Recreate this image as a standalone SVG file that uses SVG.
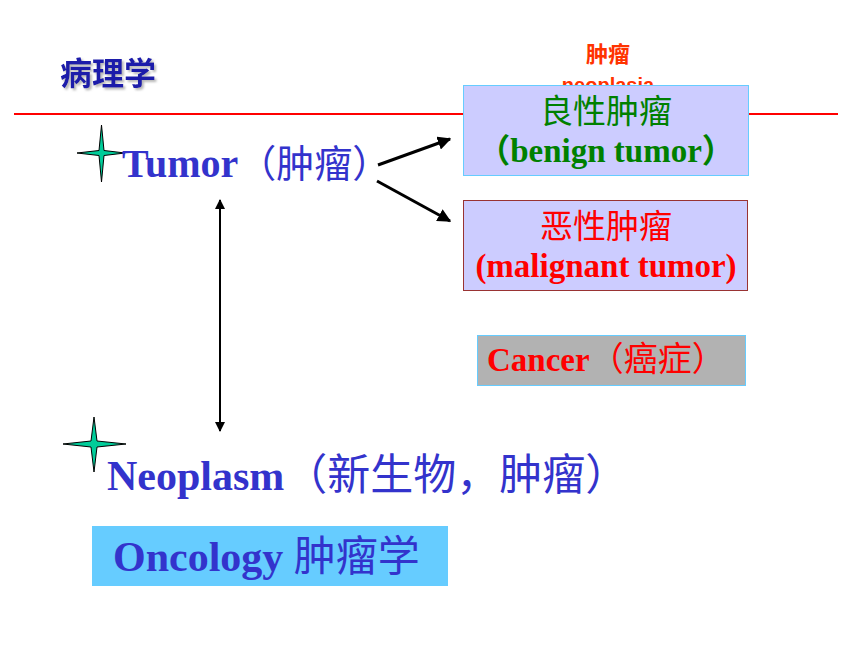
<svg xmlns="http://www.w3.org/2000/svg" width="860" height="645" viewBox="0 0 860 645">
<defs>
<style>
.serif{font-family:"Liberation Serif","Noto Sans CJK SC",serif;font-weight:bold;}
.cjk{font-family:"Noto Sans CJK SC","Liberation Sans",sans-serif;}
.blue{fill:#3333cc;}
.star{fill:#00cc99;stroke:#000;stroke-width:1;}
.conn{stroke:#000;stroke-width:3;fill:none;}
</style>
<filter id="shadow" x="-10%" y="-20%" width="130%" height="150%">
<feDropShadow dx="2" dy="2" stdDeviation="0.8" flood-color="#999999" flood-opacity="0.7"/>
</filter>
<marker id="ah" viewBox="0 0 10 10" refX="9" refY="5" markerWidth="4.5" markerHeight="4.5" orient="auto-start-reverse" markerUnits="strokeWidth">
<path d="M0,0 L10,5 L0,10 Z" fill="#000"/>
</marker>
<marker id="ah2" viewBox="0 0 10 10" refX="9" refY="5" markerWidth="5.5" markerHeight="5" orient="auto-start-reverse" markerUnits="strokeWidth">
<path d="M0,0 L10,5 L0,10 Z" fill="#000"/>
</marker>
</defs>
<rect width="860" height="645" fill="#fff"/>
<g id="title">
<text x="60" y="85" font-family="'Liberation Sans','Noto Sans CJK SC',sans-serif" font-weight="bold" font-size="32" fill="#1a1aaa" filter="url(#shadow)">病理学</text>
</g>
<g id="header-red">
<text x="608" y="62" text-anchor="middle" class="cjk" font-weight="bold" font-size="22" fill="#ff3300">肿瘤</text>
<text x="608" y="92" text-anchor="middle" font-family="'Liberation Sans',sans-serif" font-weight="bold" font-size="20" fill="#ff3300">neoplasia</text>
</g>
<line x1="14" y1="114" x2="838" y2="114" stroke="#ff0000" stroke-width="2"/>
<g id="benign">
<rect x="463.5" y="85.5" width="285" height="90" fill="#ccccff" stroke="#66ccff" stroke-width="1"/>
<text x="606" y="123" text-anchor="middle" class="cjk" font-size="33" fill="#008000">良性肿瘤</text>
<text x="606" y="162" text-anchor="middle" class="serif" font-size="33" fill="#008000">（benign tumor）</text>
</g>
<g id="malignant">
<rect x="463.5" y="200.5" width="284" height="90" fill="#ccccff" stroke="#993333" stroke-width="1"/>
<text x="606" y="238" text-anchor="middle" class="cjk" font-size="33" fill="#ff0000">恶性肿瘤</text>
<text x="606" y="277" text-anchor="middle" class="serif" font-size="33" fill="#ff0000">(malignant tumor)</text>
</g>
<g id="cancer">
<rect x="477.5" y="335.5" width="268" height="50" fill="#b2b2b2" stroke="#66ccff" stroke-width="1"/>
<text x="487" y="371" class="serif" font-size="33" fill="#ff0000">Cancer<tspan class="cjk" font-weight="normal" font-size="34">（癌症）</tspan></text>
</g>
<g id="tumor">
<path class="star" d="M101.5,125 L104,150.5 L125,153 L104,155.5 L101.5,182 L99,155.5 L77,153 L99,150.5 Z"/>
<text x="122" y="177" class="serif blue" font-size="40">Tumor<tspan class="cjk" font-weight="normal" font-size="38">（肿瘤）</tspan></text>
</g>
<g id="neoplasm">
<path class="star" d="M94,417 L97,441 L126,444 L97,447 L94,472 L91,447 L63,444 L91,441 Z"/>
<text x="107" y="490" class="serif blue" font-size="42">Neoplasm<tspan class="cjk" font-weight="normal" font-size="43">（新生物，肿瘤）</tspan></text>
</g>
<g id="oncology">
<rect x="92" y="526" width="356" height="60" fill="#66ccff"/>
<text x="113" y="571" class="serif blue" font-size="42">Oncology <tspan class="cjk" font-weight="normal" font-size="42">肿瘤学</tspan></text>
</g>
<g id="connectors">
<line class="conn" x1="378" y1="165" x2="450" y2="139" marker-end="url(#ah)"/>
<line class="conn" x1="377" y1="181" x2="450" y2="221" marker-end="url(#ah)"/>
<line x1="220" y1="200" x2="220" y2="431" stroke="#000" stroke-width="2" marker-start="url(#ah2)" marker-end="url(#ah2)"/>
</g>
</svg>
